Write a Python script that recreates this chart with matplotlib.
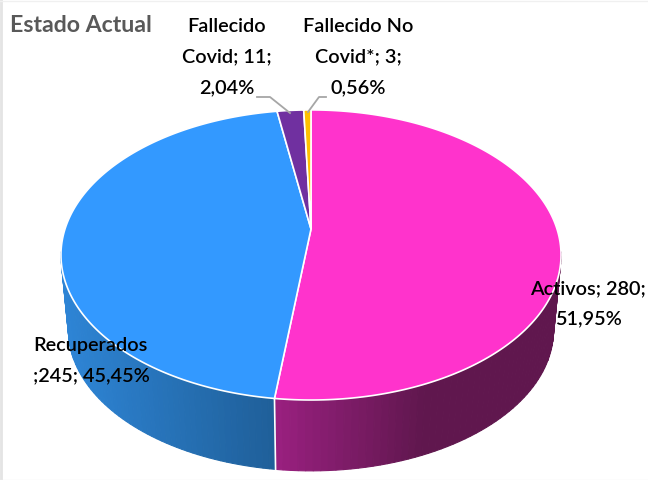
# -*- coding: utf-8 -*-
import numpy as np
import matplotlib.pyplot as plt

categories = ['Activos', 'Recuperados', 'Fallecido Covid', 'Fallecido No Covid*']
values = [280, 245, 11, 3]
colors = ['#FF33CC', '#3399FF', '#7030A0', '#FFC000']
labels = ['Activos; 280;\n51,95%', 'Recuperados\n;245; 45,45%',
          'Fallecido\nCovid; 11;\n2,04%', 'Fallecido No\nCovid*; 3;\n0,56%']

# wall gradient, left to right
wall_left = {'Activos': '#9A2080', 'Recuperados': '#2E85D6'}
wall_right = {'Activos': '#60174E', 'Recuperados': '#1F5F99'}

plt.rcParams['font.family'] = ['Lato', 'DejaVu Sans']
fig = plt.figure(figsize=(6.48, 4.8), dpi=100)
ax = fig.add_axes([0, 0, 1, 1])
ax.set_xlim(0, 648)
ax.set_ylim(480, 0)
ax.axis('off')

# the pie is seen in perspective, so the apex is not the centre of the ellipse
CX, CY = 311, 229
K = 0.179
A, B = 140.4, 246
S, D = 0.97, 76


def top(t):
    x, y = np.cos(t), np.sin(t)
    w = 1 + K * y
    return CX + B * x / w, CY - A * y / w


def bottom(t):
    x, y = top(t)
    return CX + S * (x - CX), CY + S * (y - CY) + D


def hex2rgb(c):
    return np.array([int(c[i:i + 2], 16) / 255 for i in (1, 3, 5)])


# slice angles, clockwise from 12 o'clock
fracs = np.array(values) / sum(values)
edges = np.radians(90 - 360 * np.concatenate([[0], np.cumsum(fracs)]))

# side wall, only the front part shows
lo, hi = np.radians(-171), np.radians(-9)
for i, name in enumerate(categories):
    if name not in wall_left:
        continue
    t0, t1 = max(edges[i + 1], lo), min(edges[i], hi)
    ts = np.linspace(t0, t1, 60)
    xs = top(ts)[0]
    for a, b in zip(ts[:-1], ts[1:]):
        xa, ya = top(a)
        xb, yb = top(b)
        xc, yc = bottom(b)
        xd, yd = bottom(a)
        # gets dark quickly and stays dark on the right hand part
        if name == 'Activos':
            f = min((xa + xb) / 2 - xs.min(), 150) / 150
        else:
            f = ((xa + xb) / 2 - xs.min()) / (xs.max() - xs.min())
        c = hex2rgb(wall_left[name]) * (1 - f) + hex2rgb(wall_right[name]) * f
        ax.fill([xa, xb, xc, xd], [ya, yb, yc, yd], color=c, lw=0.8, zorder=1)

# white line between the two walls
split = edges[1]
ax.plot([top(split)[0], bottom(split)[0]], [top(split)[1], bottom(split)[1]],
        color='white', lw=1.2, zorder=2)

# top face
for i in range(len(values)):
    ts = np.linspace(edges[i], edges[i + 1], 200)
    x, y = top(ts)
    ax.fill(np.r_[CX, x], np.r_[CY, y], color=colors[i], ec='white', lw=1.2, zorder=3)

# leader lines
ax.plot([257, 270, 290], [97, 97, 113], color='#A6A6A6', lw=1.3, zorder=4)
ax.plot([326, 319, 308], [97, 97, 112], color='#A6A6A6', lw=1.3, zorder=4)

# labels
ax.text(10, 25, 'Estado Actual', fontsize=16.7, fontweight='bold', color='#595959',
        va='center', ha='left', zorder=5)
ax.text(588, 304, labels[0], fontsize=14.3, fontweight='semibold', ha='center', va='center',
        linespacing=1.95, zorder=5)
ax.text(33, 361, labels[1], fontsize=14.3, fontweight='semibold', ha='left', va='center',
        linespacing=1.95, zorder=5)
ax.text(227, 57, labels[2], fontsize=14.3, fontweight='semibold', ha='center', va='center',
        linespacing=1.95, zorder=5)
ax.text(358, 57, labels[3], fontsize=14.3, fontweight='semibold', ha='center', va='center',
        linespacing=1.95, zorder=5)

# faint frame of the pasted picture
ax.plot([1, 1], [0, 480], color='#E4E4E4', lw=2, zorder=0)
ax.plot([0, 648], [0.5, 0.5], color='#F0F0F0', lw=1, zorder=0)
ax.plot([0, 648], [479.5, 479.5], color='#F0F0F0', lw=1, zorder=0)

fig.savefig('out.png', dpi=100)
